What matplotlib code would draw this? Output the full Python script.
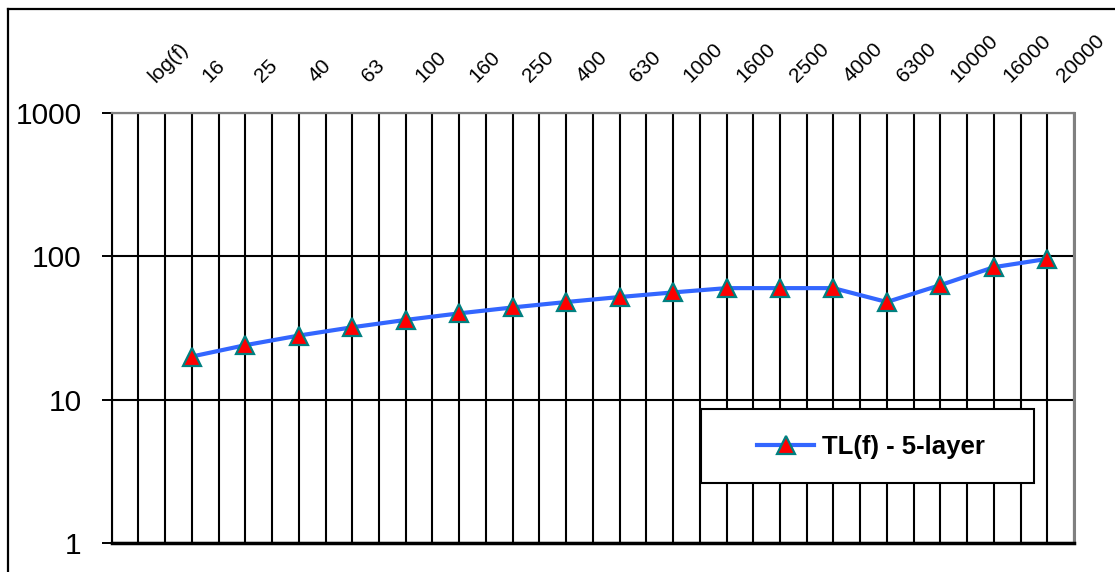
import numpy as np
import matplotlib
matplotlib.use("Agg")
import matplotlib.pyplot as plt
import matplotlib.transforms as mtransforms
from matplotlib.lines import Line2D
from matplotlib.patches import Rectangle

plt.rcParams["font.family"] = ["Liberation Sans", "DejaVu Sans"]

# Category axis (top) and transmission-loss series
categories = ["log(f)", "16", "25", "40", "63", "100", "160", "250", "400", "630",
              "1000", "1600", "2500", "4000", "6300", "10000", "16000", "20000"]
tl_labels = categories[1:]
tl_values = [20, 24, 28, 32, 36, 40, 44, 48, 52, 56, 60, 60, 60, 48, 63, 84, 96]
y_ticks = [1, 10, 100, 1000]
series_name = "TL(f) - 5-layer"

W, H = 1115, 572
fig = plt.figure(figsize=(W / 100, H / 100), dpi=100)
fig.patch.set_facecolor("white")

left, right, top, bottom = 111.7, 1074, 113, 543
ax = fig.add_axes([left / W, 1 - bottom / H, (right - left) / W, (bottom - top) / H])

# chart-area border (left and top edges)
fig.add_artist(Line2D([8 / W, 8 / W], [0, 1 - 9 / H], transform=fig.transFigure,
                      color="black", lw=1.6))
fig.add_artist(Line2D([8 / W, 1], [1 - 9 / H, 1 - 9 / H], transform=fig.transFigure,
                      color="black", lw=1.6))

ax.set_yscale("log")
ax.set_ylim(1, 1000)
ax.set_xlim(-0.5, len(categories) - 0.5)

# vertical grid at every category centre and boundary
ax.set_xticks(np.arange(-0.5, len(categories), 0.5))
ax.tick_params(axis="x", length=0, labelbottom=False)
ax.grid(axis="x", color="black", lw=1.5)

ax.set_yticks(y_ticks)
ax.set_yticklabels([str(v) for v in y_ticks])
ax.yaxis.set_minor_locator(matplotlib.ticker.NullLocator())
ax.tick_params(axis="y", direction="out", length=7.5, width=1.4, pad=14,
               labelsize=21.5, colors="black")
ax.grid(axis="y", which="major", color="black", lw=1.5)
ax.set_axisbelow(True)

for side, col, lw in [("left", "black", 1.5), ("bottom", "black", 2.5),
                      ("top", "#808080", 1.6), ("right", "#808080", 2.2)]:
    ax.spines[side].set_color(col)
    ax.spines[side].set_linewidth(lw)
    ax.spines[side].set_zorder(3)

# rotated category labels above the plot
lab_trans = (mtransforms.blended_transform_factory(ax.transData, ax.transAxes)
             + mtransforms.ScaledTranslation(17 / 100, 30 / 100, fig.dpi_scale_trans))
for i, lab in enumerate(categories):
    ax.text(i, 1, lab, transform=lab_trans, rotation=45, rotation_mode="anchor",
            ha="left", va="baseline", fontsize=15, color="black", clip_on=False)

xpos = [categories.index(lab) for lab in tl_labels]
ax.plot(xpos, tl_values, color="#3366FF", lw=3, marker="^", ms=13,
        markerfacecolor="#FF0000", markeredgecolor="#008080", mew=1.6,
        label=series_name, zorder=4, clip_on=False)

# legend box
lx0, ly0, lx1, ly1 = 700.7, 409.3, 1034, 482.7
ax.add_patch(Rectangle((lx0 / W, 1 - ly1 / H), (lx1 - lx0) / W, (ly1 - ly0) / H,
                       transform=fig.transFigure, facecolor="white",
                       edgecolor="black", lw=1.5, zorder=5, clip_on=False))
leg = ax.legend(loc="center", bbox_to_anchor=(871 / W, 1 - 447 / H),
                bbox_transform=fig.transFigure, frameon=False,
                handlelength=2.2, handletextpad=0.3, borderpad=0,
                prop={"size": 18.5, "weight": "bold"})
leg.set_zorder(6)

fig.savefig("out.png", dpi=100, facecolor="white")
